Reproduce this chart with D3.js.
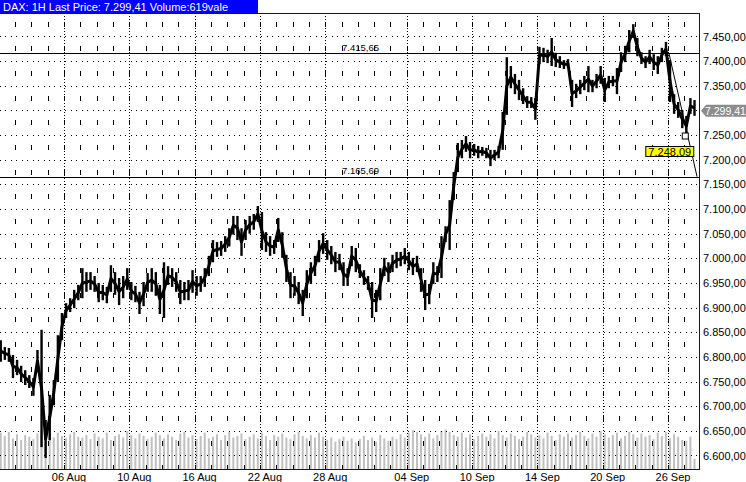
<!DOCTYPE html>
<html>
<head>
<meta charset="utf-8">
<script src="https://cdn.jsdelivr.net/npm/d3@7"></script>
<style>
  body { margin: 0; background: #fff; }
  svg { display: block; }
</style>
</head>
<body>
<div id="chart"></div>
<script>
const highs = [
  6834, 6820, 6818, 6804, 6794, 6782, 6773, 6763, 6757, 6814,
  6855, 6672, 6723, 6753, 6844, 6889, 6909, 6919, 6936, 6946,
  6980, 6972, 6972, 6964, 6950, 6946, 6942, 6986, 6972, 6960,
  6964, 6980, 6952, 6944, 6932, 6952, 6970, 6980, 6972, 6946,
  6992, 6984, 6980, 6972, 6956, 6952, 6956, 6976, 6964, 6964,
  6980, 7005, 7037, 7033, 7035, 7045, 7061, 7086, 7086, 7061,
  7078, 7086, 7090, 7106, 7094, 7053, 7045, 7037, 7082, 7053,
  7007, 6972, 6964, 6952, 6936, 6976, 6992, 7005, 7037, 7051,
  7037, 7025, 7013, 7009, 6992, 6980, 7025, 7021, 6988, 6976,
  6964, 6952, 6936, 6980, 7001, 6992, 7007, 7013, 7013, 7021,
  7013, 7001, 7005, 6980, 6956, 6948, 6992, 6984, 7045, 7065,
  7118, 7175, 7234, 7240, 7248, 7236, 7232, 7228, 7226, 7224,
  7220, 7220, 7228, 7297, 7408, 7390, 7374, 7362, 7345, 7329,
  7327, 7325, 7429, 7427, 7423, 7447, 7417, 7410, 7402, 7404,
  7362, 7354, 7362, 7370, 7390, 7362, 7374, 7390, 7366, 7370,
  7370, 7386, 7418, 7431, 7463, 7475, 7447, 7418, 7410, 7423,
  7414, 7410, 7427, 7439, 7402, 7333, 7317, 7301, 7289, 7325,
  7321
];
const lows = [
  6790, 6794, 6790, 6757, 6763, 6749, 6743, 6737, 6721, 6769,
  6617, 6595, 6631, 6702, 6749, 6834, 6879, 6891, 6899, 6915,
  6919, 6932, 6936, 6932, 6911, 6915, 6909, 6932, 6926, 6905,
  6919, 6936, 6915, 6911, 6887, 6903, 6932, 6932, 6924, 6887,
  6879, 6946, 6942, 6932, 6907, 6915, 6915, 6930, 6924, 6932,
  6942, 6964, 6992, 7003, 7005, 7013, 7024, 7048, 7037, 7005,
  7037, 7050, 7058, 7074, 7017, 7013, 7005, 7009, 7033, 7001,
  6952, 6919, 6924, 6907, 6883, 6919, 6948, 6964, 6992, 7009,
  6997, 6988, 6972, 6976, 6944, 6944, 6984, 6972, 6960, 6946,
  6936, 6879, 6891, 6915, 6964, 6952, 6972, 6980, 6984, 6988,
  6976, 6966, 6972, 6932, 6895, 6907, 6948, 6952, 6960, 7033,
  7017, 7118, 7175, 7203, 7216, 7203, 7208, 7203, 7208, 7203,
  7187, 7199, 7203, 7220, 7291, 7345, 7333, 7321, 7313, 7305,
  7305, 7281, 7394, 7398, 7396, 7390, 7388, 7386, 7384, 7386,
  7307, 7325, 7333, 7341, 7337, 7337, 7345, 7354, 7317, 7345,
  7349, 7333, 7378, 7398, 7418, 7447, 7410, 7394, 7386, 7394,
  7382, 7374, 7398, 7410, 7317, 7293, 7285, 7264, 7248, 7293,
  7289
];
const volumes = [
  2250, 2050, 2300, 1900, 2150, 1800, 2100, 2000, 1850, 2200,
  2350, 2300, 2100, 1950, 2250, 2050, 1900, 2150, 2300, 2000,
  1950, 2100, 1850, 2200, 2000, 1900, 2250, 1800, 2050, 2150,
  1950, 2350, 2100, 1900, 2200, 2050, 1850, 2000, 2250, 2100,
  1900, 2150, 2000, 1800, 2200, 2300, 1950, 2100, 1850, 2050,
  2250, 1900, 2000, 2150, 1800, 2100, 2300, 1950, 2050, 2200,
  1850, 2000, 2150, 1900, 2250, 2050, 1800, 2100, 2000, 2200,
  1950, 1850, 2150, 2300, 2050, 1900, 2100, 1950, 2250, 2000,
  1800, 1950, 1700, 1850, 2000, 1750, 1900, 1650, 1850, 2050,
  1800, 1950, 1700, 2100, 1900, 1750, 2000, 1850, 2150, 1950,
  2250, 2400, 2300, 2150, 2000, 2200, 1900, 2100, 2350, 2450,
  2300, 2100, 2000, 2250, 1950, 2150, 1850, 2050, 2200, 2000,
  2150, 1900, 2350, 2100, 1950, 2200, 2050, 1850, 2000, 2300,
  2150, 1950, 2100, 1900, 2250, 2050, 1800, 2150, 2000, 2200,
  1950, 2100, 2300, 2050, 1900, 2200, 2000, 2350, 2150, 1950,
  2100, 2250, 1900, 2050, 2300, 2150, 1950, 2200, 2000, 2100,
  1850, 2250, 2050, 2300, 1900, 2150, 2000, 1800, 1750, 2000,
  619
];

const dayTicks = [4, 8, 12, 16, 20, 25, 29, 33, 37, 41];
const dayLabels = ["06 Aug", "10 Aug", "16 Aug", "22 Aug", "28 Aug", "04 Sep", "10 Sep", "14 Sep", "20 Sep", "26 Sep"];
const priceTicks = [6600, 6650, 6700, 6750, 6800, 6850, 6900, 6950, 7000,
                    7050, 7100, 7150, 7200, 7250, 7300, 7350, 7400, 7450];
const levels = [7415.65, 7165.69];
const lastPrice = 7299.41;
const markPrice = 7248.09;
const markDay = 42.06;
const trendDays = [41.06, 42.78];
const trendPrices = [7415.65, 7165.69];
const barsPerDay = 4;

const width = 746;
const height = 482;
const plotRight = 699, plotTop = 13, plotBottom = 469;
const font = "'Liberation Sans', Arial, sans-serif";
const blue = "#0000c8";

const de = d3.formatLocale({ decimal: ",", thousands: ".", grouping: [3], currency: ["", ""] });
const fmt = de.format(",.2f");

const x = d3.scaleLinear().domain([0, 42.9]).range([-1.3, plotRight]);
const y = d3.scaleLinear().domain([6572.6, 7495.6]).range([plotBottom, 14]);
const yVol = d3.scaleLinear().domain([0, 3000]).range([plotBottom, plotBottom - 48.4]);

const svg = d3.select("#chart")
  .append("svg")
  .attr("width", width)
  .attr("height", height)
  .style("background", "#fff");

svg.append("clipPath")
  .attr("id", "plot")
  .append("rect")
  .attr("x", 0)
  .attr("y", plotTop)
  .attr("width", plotRight)
  .attr("height", plotBottom - plotTop);

const plot = svg.append("g").attr("clip-path", "url(#plot)");

// volume
plot.append("g")
  .selectAll("rect")
  .data(volumes)
  .join("rect")
  .attr("x", (d, i) => x(i / barsPerDay) + 1)
  .attr("width", 2)
  .attr("y", d => yVol(d))
  .attr("height", d => plotBottom - yVol(d))
  .attr("fill", "#c0c0c0");

// grid
const grid = plot.append("g")
  .attr("stroke", "#000")
  .attr("shape-rendering", "crispEdges");

grid.selectAll(".h")
  .data(priceTicks)
  .join("line")
  .attr("x1", 0)
  .attr("x2", plotRight)
  .attr("y1", d => Math.round(y(d)) + 0.5)
  .attr("y2", d => Math.round(y(d)) + 0.5)
  .attr("stroke-dasharray", "1," + (x(1) - x(0) - 3) / 3);

const step = y(7400) - y(7450);
const dashStart = y(7475) - 2.5;
grid.selectAll(".v")
  .data(d3.range(1, 43))
  .join("line")
  .attr("x1", d => Math.round(x(d)) + 0.5)
  .attr("x2", d => Math.round(x(d)) + 0.5)
  .attr("y1", plotTop)
  .attr("y2", plotBottom)
  .attr("stroke-dasharray", "5," + (step - 5))
  .attr("stroke-dashoffset", step - (dashStart - plotTop));

grid.selectAll(".m")
  .data(dayTicks)
  .join("line")
  .attr("x1", d => Math.round(x(d)) + 0.5)
  .attr("x2", d => Math.round(x(d)) + 0.5)
  .attr("y1", plotTop)
  .attr("y2", plotBottom)
  .attr("stroke-dasharray", "1,2");

// support / resistance
plot.selectAll(".lvl")
  .data(levels)
  .join("line")
  .attr("x1", 0)
  .attr("x2", plotRight)
  .attr("y1", d => Math.round(y(d)) + 0.5)
  .attr("y2", d => Math.round(y(d)) + 0.5)
  .attr("stroke", "#000")
  .attr("shape-rendering", "crispEdges");

svg.selectAll(".lvlText")
  .data(levels)
  .join("text")
  .attr("x", 342)
  .attr("y", d => y(d) - 2.5)
  .attr("font-family", font)
  .attr("font-size", 9.5)
  .text(d => fmt(d));

// price: high-low bars plus a line through their middles
const cx = i => x((i + 0.5) / barsPerDay);

plot.append("path")
  .datum(highs)
  .attr("d", d3.line().x((d, i) => cx(i)).y((d, i) => y((d + lows[i]) / 2)))
  .attr("fill", "none")
  .attr("stroke", "#000")
  .attr("stroke-width", 3)
  .attr("stroke-linejoin", "round");

plot.append("g")
  .selectAll("line")
  .data(highs)
  .join("line")
  .attr("x1", (d, i) => cx(i))
  .attr("x2", (d, i) => cx(i))
  .attr("y1", d => y(d))
  .attr("y2", (d, i) => y(lows[i]))
  .attr("stroke", "#000")
  .attr("stroke-width", 2.4);

// trend line
plot.append("line")
  .attr("x1", x(trendDays[0]))
  .attr("y1", y(trendPrices[0]))
  .attr("x2", x(trendDays[1]))
  .attr("y2", y(trendPrices[1]))
  .attr("stroke", "#000")
  .attr("stroke-width", 1);

// marker + label
const mx = x(markDay), my = y(markPrice);
svg.append("rect")
  .attr("x", mx - 3)
  .attr("y", my - 3)
  .attr("width", 6)
  .attr("height", 6)
  .attr("fill", "#fff")
  .attr("stroke", "#000");

svg.append("rect")
  .attr("x", mx - 39.5)
  .attr("y", my + 10.5)
  .attr("width", 48)
  .attr("height", 10)
  .attr("fill", "#ffff00")
  .attr("stroke", "#000");

svg.append("text")
  .attr("x", mx - 15.5)
  .attr("y", my + 19.5)
  .attr("text-anchor", "middle")
  .attr("font-family", font)
  .attr("font-size", 11)
  .text(fmt(markPrice));

// axes
const ly = y(lastPrice);
const yAxis = svg.append("g")
  .attr("transform", "translate(" + plotRight + ",0)")
  .call(d3.axisRight(y).tickValues(priceTicks).tickSize(0).tickPadding(4).tickFormat(fmt));
yAxis.select(".domain").remove();
yAxis.selectAll(".tick").filter(d => Math.abs(y(d) - ly) < 8).remove();
yAxis.attr("font-family", font).attr("font-size", 11);

const xAxis = svg.append("g")
  .attr("transform", "translate(4.5," + plotBottom + ")")
  .call(d3.axisBottom(x).tickValues(dayTicks).tickSize(0).tickPadding(4).tickFormat((d, i) => dayLabels[i]));
xAxis.select(".domain").remove();
xAxis.attr("font-family", font).attr("font-size", 11);

// frame
svg.append("line")
  .attr("x1", 0).attr("x2", plotRight + 0.5)
  .attr("y1", plotTop + 0.5).attr("y2", plotTop + 0.5)
  .attr("stroke", blue);
svg.append("line")
  .attr("x1", 0).attr("x2", plotRight + 0.5)
  .attr("y1", plotBottom + 0.5).attr("y2", plotBottom + 0.5)
  .attr("stroke", blue);
svg.append("line")
  .attr("x1", plotRight + 0.5).attr("x2", plotRight + 0.5)
  .attr("y1", plotTop).attr("y2", plotBottom + 1)
  .attr("stroke", blue);

// last price tag
svg.append("polygon")
  .attr("points", [[701, ly], [706, ly - 6], [746, ly - 6], [746, ly + 6], [706, ly + 6]].join(" "))
  .attr("fill", "#8c8c8c");
svg.append("text")
  .attr("x", 705)
  .attr("y", ly + 4)
  .attr("fill", "#fff")
  .attr("font-family", font)
  .attr("font-size", 10.5)
  .text(fmt(lastPrice));

// title bar
svg.append("rect")
  .attr("x", 0)
  .attr("y", 0)
  .attr("width", 258)
  .attr("height", plotTop)
  .attr("fill", "#0000ff");
svg.append("text")
  .attr("x", 3)
  .attr("y", 10.5)
  .attr("fill", "#fff")
  .attr("font-family", font)
  .attr("font-size", 11)
  .text("DAX: 1H Last Price: " + fmt(lastPrice) + " Volume:" + volumes[volumes.length - 1] + "vale");
</script>
</body>
</html>
